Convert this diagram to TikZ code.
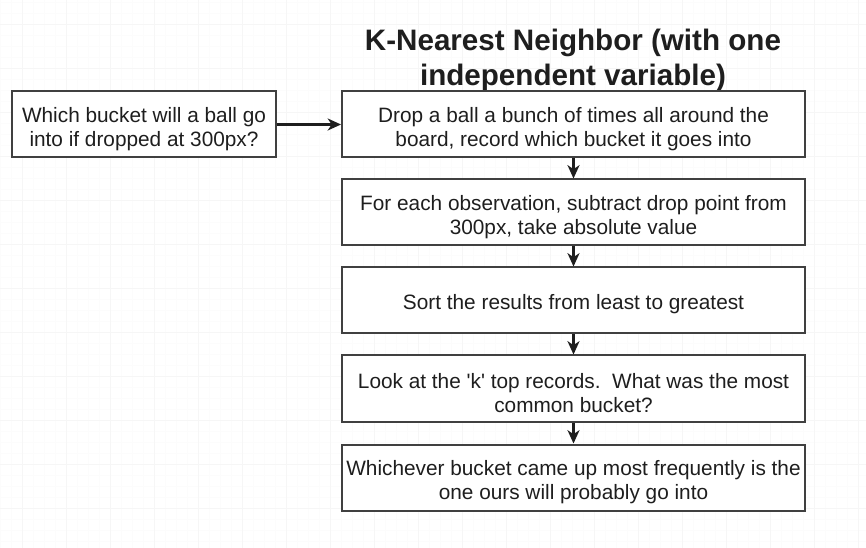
\documentclass[tikz,border=0pt]{standalone}
\usepackage{fontspec}
\setmainfont{Liberation Sans}
\usetikzlibrary{arrows.meta}
\definecolor{gridminor}{HTML}{FCFCFC}
\definecolor{gridmajor}{HTML}{F6F6F6}
\definecolor{ink}{HTML}{1E1E1E}
\begin{document}
\begin{tikzpicture}[x=0.75pt,y=-0.75pt,
  box/.style={draw=ink!85, line width=1.5pt, fill=white, minimum width=463*0.75pt, minimum height=66*0.75pt, inner sep=0pt},
  boxtext/.style={align=center, text=ink, inner sep=0pt, yshift=-3.5pt, font=\fontsize{15.6}{17.5}\selectfont},
  conn/.style={draw=ink, line width=1.6pt, -{Stealth[length=10pt,width=9pt,inset=3pt]}}]
\useasboundingbox (0,0) rectangle (866,548);
\fill[white] (0,0) rectangle (866,548);
\foreach \i in {0,...,78} \draw[gridminor, line width=0.5pt] (\i*11,0) -- (\i*11,548);
\foreach \j in {0,...,49} \draw[gridminor, line width=0.5pt] (0,2+\j*11) -- (866,2+\j*11);
\foreach \i in {0,...,19} \draw[gridmajor, line width=0.7pt] (22+\i*44,0) -- (22+\i*44,548);
\foreach \j in {0,...,12} \draw[gridmajor, line width=0.7pt] (0,24+\j*44) -- (866,24+\j*44);
\node[font=\fontsize{22.2}{26.2}\selectfont\bfseries, align=center, text=ink] (title) at (573,60) {K-Nearest Neighbor (with one\\independent variable)};
\node[box, minimum width=264*0.75pt, label={[boxtext, name=qt]center:{Which bucket will a ball go\\into if dropped at 300px?}}] (q) at (144,124.5) {};
\node[box, label={[boxtext, name=b1t]center:{Drop a ball a bunch of times all around the\\board, record which bucket it goes into}}] (b1) at (573.5,124.5) {};
\node[box, label={[boxtext, name=b2t]center:{For each observation, subtract drop point from\\300px, take absolute value}}] (b2) at (573.5,212.5) {};
\node[box, label={[boxtext, name=b3t, yshift=1pt]center:{Sort the results from least to greatest}}] (b3) at (573.5,300.5) {};
\node[box, label={[boxtext, name=b4t]center:{Look at the \textquotesingle k\textquotesingle\ top records.\ \ What was the most\\common bucket?}}] (b4) at (573.5,388.5) {};
\node[box, label={[boxtext, name=b5t]center:{Whichever bucket came up most frequently is the\\one ours will probably go into}}] (b5) at (573.5,477.5) {};
\draw[conn] (q) -- (b1);
\draw[conn] (b1) -- (b2);
\draw[conn] (b2) -- (b3);
\draw[conn] (b3) -- (b4);
\draw[conn] (b4) -- (b5);
\end{tikzpicture}
\end{document}
